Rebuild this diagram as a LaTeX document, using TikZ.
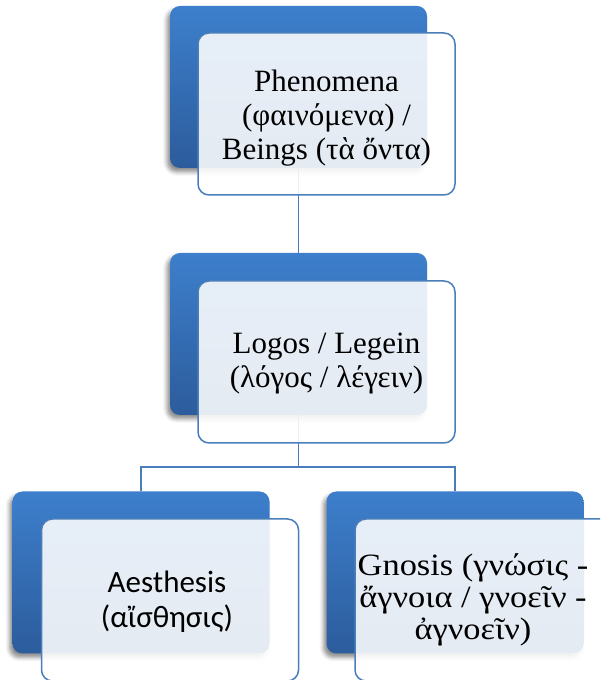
\documentclass[tikz,border=0pt]{standalone}
\usepackage{fontspec}
\setmainfont{Liberation Serif}
\newfontfamily\sansbody{Carlito}
\newfontfamily\wideserif[FakeStretch=1.11]{Liberation Serif}
\usetikzlibrary{shadows.blur}

\definecolor{blueTop}{HTML}{3D7FCC}
\definecolor{blueBot}{HTML}{2C5C9C}
\definecolor{lineblue}{HTML}{4A7EBB}

\tikzset{
  backbox/.style={rectangle, rounded corners=10pt, minimum width=257pt,
    minimum height=162pt, inner sep=0pt, outer sep=0pt,
    top color=blueTop, bottom color=blueBot,
    blur shadow={shadow xshift=-3pt, shadow yshift=-4pt,
      shadow blur radius=4pt, shadow opacity=45}},
  frontbox/.style={rectangle, rounded corners=11pt, draw=lineblue,
    line width=1.5pt, fill=white, fill opacity=0.88, draw opacity=1,
    minimum width=257pt, minimum height=162pt, inner sep=0pt, outer sep=0pt},
  link/.style={draw=lineblue, line width=1.5pt},
  caption/.style={font=\fontsize{31}{34}\selectfont, align=center,
    text=black, inner sep=0pt}
}

\begin{document}
\begin{tikzpicture}[x=1pt, y=1pt]
  \path[use as bounding box] (0,0) rectangle (600,680);
  \clip (0,0) rectangle (600,680);

  % back (accent) boxes
  \node[backbox] (b1) at (298.5,593) {};
  \node[backbox] (b2) at (298.5,346) {};
  \node[backbox] (b3) at (141,107.5) {};
  \node[backbox] (b4) at (455,107.5) {};

  % connectors, drawn beneath the translucent text boxes
  \coordinate (j) at (298.5,213);
  \draw[link] (b1.south) -- (b2.north);
  \draw[link] (b2.south) -- (j);
  \draw[link] (j) -| (b3.north);
  \draw[link] (j) -| (b4.north);

  % translucent text boxes
  \node[frontbox] (f1) at (326.5,566) {};
  \node[frontbox] (f2) at (326.5,318) {};
  \node[frontbox] (f3) at (170,80) {};
  \node[frontbox] (f4) at (483.5,80) {};

  % texts
  \node[caption] (t1) at (326.5,562) {Phenomena\\(φαινόμενα) /\\Beings (τὰ ὄντα)};
  \node[caption] (t2) at (326.5,316) {Logos / Legein\\(λόγος / λέγειν)};
  \node[caption, font=\sansbody\fontsize{31}{35}\selectfont] (t3) at (167,78) {Aesthesis\\(αἴσθησις)};
  \node[caption, font=\wideserif\fontsize{31}{32}\selectfont] (t4) at (473,80) {Gnosis (γνώσις -\\ἄγνοια / γνοεῖν -\\ἀγνοεῖν)};
\end{tikzpicture}
\end{document}
